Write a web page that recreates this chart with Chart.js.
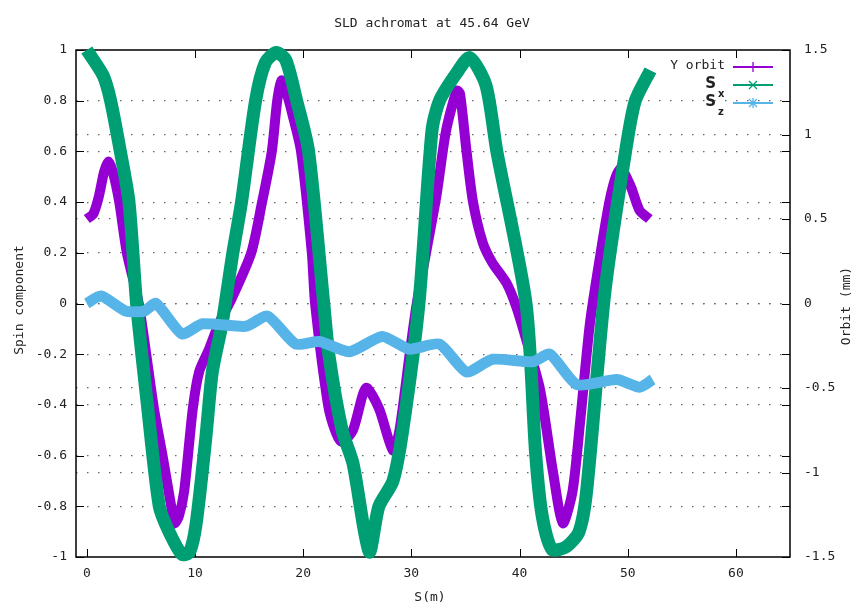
<!DOCTYPE html>
<html>
<head>
<meta charset="utf-8">
<title>SLD achromat at 45.64 GeV</title>
<script src="https://cdn.jsdelivr.net/npm/chart.js@4.4.1/dist/chart.umd.min.js"></script>
<style>
  html, body { margin: 0; padding: 0; background: #fff; }
  #wrap { width: 858px; height: 611px; }
</style>
</head>
<body>
<div id="wrap"><canvas id="chart" width="858" height="611"></canvas></div>
<script>
// S (m) positions and values
var orbitS = [0, 0.6, 1.1, 1.6, 2.0, 2.4, 3.0, 3.7, 4.8, 6.2,
    7.0, 7.8, 8.1, 8.5, 9.0, 9.8, 10.4, 11.3, 12.2, 13.4,
    15.2, 16.2, 17.1, 17.6, 18.0, 18.4, 19.0, 19.8, 20.8, 21.1,
    22.3, 23.0, 23.6, 24.6, 25.8, 27.0, 28.3, 28.9, 29.8, 30.5,
    32.3, 33.2, 34.2, 34.5, 35.1, 35.7, 36.6, 37.5, 38.8, 39.7,
    40.6, 41.9, 43.1, 44.0, 44.9, 45.6, 46.5, 47.5, 48.3, 48.9,
    49.4, 50.3, 51.1, 52.0];
// Y orbit (mm)
var orbitY = [0.5, 0.53, 0.63, 0.78, 0.84, 0.78, 0.6, 0.3, 0, -0.62,
    -0.9, -1.2, -1.3, -1.26, -1.11, -0.62, -0.4, -0.27, -0.12, 0.03,
    0.3, 0.6, 0.9, 1.2, 1.32, 1.26, 1.12, 0.9, 0.3, 0,
    -0.6, -0.76, -0.82, -0.75, -0.5, -0.62, -0.87, -0.75, -0.32, 0,
    0.63, 1.02, 1.26, 1.24, 0.9, 0.6, 0.36, 0.24, 0.12, -0.02,
    -0.21, -0.51, -1.0, -1.3, -1.11, -0.7, -0.12, 0.3, 0.6, 0.75,
    0.8, 0.69, 0.55, 0.5];

// S_x spin component
var sxS = [0, 1.5, 2.2, 3.1, 3.9, 4.6, 5.6, 6.7, 7.6, 8.8,
    9.5, 10.1, 11.0, 11.6, 12.5, 13.5, 14.3, 15.6, 16.5, 17.5,
    18.4, 19.4, 20.5, 21.9, 22.4, 23.6, 24.6, 26.1, 27.0, 28.3,
    29.2, 30.7, 31.9, 32.6, 34.2, 35.4, 36.9, 37.9, 40.6, 41.5,
    42.1, 43.0, 44.3, 45.5, 46.2, 47.9, 49.8, 50.7, 52.1];
var sxY = [1.0, 0.9, 0.8, 0.6, 0.4, 0, -0.4, -0.8, -0.9, -0.99,
    -0.98, -0.87, -0.53, -0.27, -0.08, 0.2, 0.4, 0.8, 0.95, 0.99,
    0.96, 0.8, 0.6, 0, -0.21, -0.5, -0.63, -0.98, -0.8, -0.7,
    -0.5, 0, 0.68, 0.8, 0.91, 0.97, 0.86, 0.6, 0, -0.6,
    -0.84, -0.97, -0.96, -0.9, -0.74, 0.05, 0.6, 0.8, 0.92];

// S_z spin component
var szS = [0, 1.3, 3.6, 5.3, 6.4, 8.8, 10.7, 14.7, 16.7, 19.3, 21.5, 24.3,
    27.3, 29.8, 32.6, 35.1, 37.5, 41.2, 42.8, 45.3, 49.0, 51.1, 52.3];
var szY = [0, 0.03, -0.03, -0.03, 0, -0.12, -0.08, -0.09, -0.05, -0.16, -0.15, -0.19,
    -0.13, -0.18, -0.16, -0.27, -0.22, -0.23, -0.2, -0.32, -0.3, -0.33, -0.3];

var xTicks = [0, 10, 20, 30, 40, 50, 60];
var yTicks = [-1, -0.8, -0.6, -0.4, -0.2, 0, 0.2, 0.4, 0.6, 0.8, 1];
var y2Ticks = [-1.5, -1, -0.5, 0, 0.5, 1, 1.5];

var purple = "#9400d3";
var green = "#009e73";
var blue = "#56b4e9";
var FONT = "'DejaVu Sans Mono', monospace";

function pairs(xs, ys) {
    var out = [];
    for (var i = 0; i < xs.length; i++) {
        out.push({ x: xs[i], y: ys[i] });
    }
    return out;
}

function setTicks(list) {
    return function (scale) {
        scale.ticks = list.map(function (v) { return { value: v }; });
    };
}

function fmt(v) {
    return String(Math.round(v * 10) / 10);
}

// gnuplot style frame, inward ticks, titles and key
var gnuplotBits = {
    id: "gnuplotBits",
    beforeDatasetsDraw: function (chart) {
        var ctx = chart.ctx;
        var a = chart.chartArea;
        var sx = chart.scales.x, sy = chart.scales.y, sy2 = chart.scales.y2;
        ctx.save();
        ctx.strokeStyle = "#000";
        ctx.lineWidth = 1.5;
        ctx.strokeRect(a.left, a.top, a.right - a.left, a.bottom - a.top);
        ctx.lineWidth = 1;
        ctx.beginPath();
        xTicks.forEach(function (v) {
            var px = Math.round(sx.getPixelForValue(v)) + 0.5;
            ctx.moveTo(px, a.bottom); ctx.lineTo(px, a.bottom - 8);
            ctx.moveTo(px, a.top); ctx.lineTo(px, a.top + 8);
        });
        yTicks.forEach(function (v) {
            var py = Math.round(sy.getPixelForValue(v)) + 0.5;
            ctx.moveTo(a.left, py); ctx.lineTo(a.left + 8, py);
            ctx.moveTo(a.right, py); ctx.lineTo(a.right - 8, py);
        });
        y2Ticks.forEach(function (v) {
            var py = Math.round(sy2.getPixelForValue(v)) + 0.5;
            ctx.moveTo(a.right, py); ctx.lineTo(a.right - 8, py);
        });
        ctx.stroke();
        ctx.restore();
    },
    afterDraw: function (chart) {
        var ctx = chart.ctx;
        ctx.save();
        ctx.fillStyle = "#222";
        ctx.font = "13px " + FONT;
        ctx.textAlign = "center";
        ctx.textBaseline = "middle";
        ctx.fillText("SLD achromat at 45.64 GeV", 432, 24);
        ctx.fillText("S(m)", 430, 598);

        ctx.save();
        ctx.translate(20, 300);
        ctx.rotate(-Math.PI / 2);
        ctx.fillText("Spin component", 0, 0);
        ctx.restore();

        ctx.save();
        ctx.translate(847, 306);
        ctx.rotate(-Math.PI / 2);
        ctx.fillText("Orbit (mm)", 0, 0);
        ctx.restore();

        // key
        var x1 = 733, x2 = 773, xm = 753;
        var rows = [
            { y: 67, color: purple, mark: "plus" },
            { y: 85, color: green, mark: "cross" },
            { y: 103, color: blue, mark: "star" }
        ];
        ctx.textAlign = "right";
        ctx.fillText("Y orbit", 725, 66);
        ctx.font = "bold 15px 'DejaVu Sans', sans-serif";
        ctx.fillText("S", 716, 84);
        ctx.fillText("S", 716, 102);
        ctx.font = "bold 10px 'DejaVu Sans', sans-serif";
        ctx.textAlign = "left";
        ctx.fillText("x", 718, 94);
        ctx.fillText("z", 718, 112);

        rows.forEach(function (r) {
            ctx.strokeStyle = r.color;
            ctx.lineWidth = 2;
            ctx.beginPath();
            ctx.moveTo(x1, r.y); ctx.lineTo(x2, r.y);
            ctx.stroke();
            ctx.lineWidth = 1.3;
            ctx.beginPath();
            if (r.mark !== "cross") {
                ctx.moveTo(xm, r.y - 5); ctx.lineTo(xm, r.y + 5);
            }
            if (r.mark !== "plus") {
                ctx.moveTo(xm - 4, r.y - 4); ctx.lineTo(xm + 4, r.y + 4);
                ctx.moveTo(xm - 4, r.y + 4); ctx.lineTo(xm + 4, r.y - 4);
            }
            ctx.stroke();
        });
        ctx.restore();
    }
};

var gridDots = [1.5, 9.5];

var ctx = document.getElementById("chart");

var chart = new Chart(ctx, {
    type: "line",
    data: {
        datasets: [
            {
                label: "Y orbit",
                data: pairs(orbitS, orbitY),
                yAxisID: "y2",
                borderColor: purple,
                backgroundColor: purple,
                borderWidth: 10,
                pointRadius: 0,
                tension: 0.25,
                borderJoinStyle: "round",
                clip: false,
                order: 3
            },
            {
                label: "S_x",
                data: pairs(sxS, sxY),
                yAxisID: "y",
                borderColor: green,
                backgroundColor: green,
                borderWidth: 13,
                pointRadius: 0,
                tension: 0.25,
                borderJoinStyle: "round",
                clip: false,
                order: 2
            },
            {
                label: "S_z",
                data: pairs(szS, szY),
                yAxisID: "y",
                borderColor: blue,
                backgroundColor: blue,
                borderWidth: 11,
                pointRadius: 0,
                tension: 0.2,
                borderJoinStyle: "round",
                clip: false,
                order: 1
            }
        ]
    },
    options: {
        responsive: false,
        animation: false,
        devicePixelRatio: 1,
        layout: { padding: { top: 50, left: 0, right: 0, bottom: 0 } },
        plugins: {
            legend: { display: false },
            title: { display: false },
            tooltip: { enabled: false }
        },
        scales: {
            x: {
                type: "linear",
                min: -1,
                max: 65,
                afterBuildTicks: setTicks(xTicks),
                afterFit: function (s) { s.height = 54; },
                grid: { display: false, drawTicks: false },
                border: { display: false },
                ticks: { padding: 9, color: "#222", font: { family: FONT, size: 13 }, maxRotation: 0 }
            },
            y: {
                type: "linear",
                position: "left",
                min: -1,
                max: 1,
                afterBuildTicks: setTicks(yTicks),
                afterFit: function (s) { s.width = 76; },
                grid: {
                    drawTicks: false,
                    lineWidth: 1.2,
                    color: function (c) {
                        return c.tick && Math.abs(c.tick.value) === 1 ? "rgba(0,0,0,0)" : "#666";
                    }
                },
                border: { display: false, dash: gridDots },
                ticks: { padding: 9, color: "#222", font: { family: FONT, size: 13 }, callback: fmt }
            },
            y2: {
                type: "linear",
                position: "right",
                min: -1.5,
                max: 1.5,
                afterBuildTicks: setTicks(y2Ticks),
                afterFit: function (s) { s.width = 68; },
                grid: {
                    drawTicks: false,
                    lineWidth: 1.2,
                    color: function (c) {
                        return c.tick && Math.abs(c.tick.value) === 1.5 ? "rgba(0,0,0,0)" : "#666";
                    }
                },
                border: { display: false, dash: gridDots },
                ticks: { padding: 14, color: "#222", font: { family: FONT, size: 13 }, callback: fmt }
            }
        }
    },
    plugins: [gnuplotBits]
});
</script>
</body>
</html>
